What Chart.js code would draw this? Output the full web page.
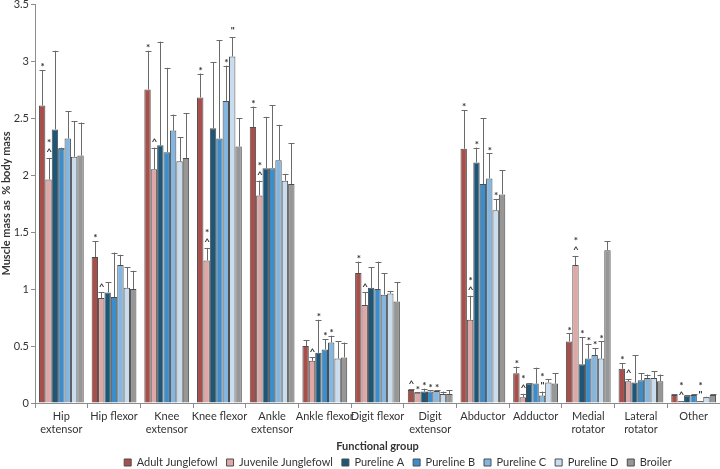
<!DOCTYPE html>
<html>
<head>
<meta charset="utf-8">
<script src="https://cdn.jsdelivr.net/npm/chart.js@4.4.1/dist/chart.umd.min.js"></script>
<style>
  html, body { margin: 0; padding: 0; background: #fff; }
  #wrap { width: 720px; height: 469px; }
</style>
</head>
<body>
<div id="wrap"><canvas id="muscleChart"></canvas></div>
<script>
// Functional groups (x categories)
const groups = [['Hip', 'extensor'], 'Hip flexor', ['Knee', 'extensor'], 'Knee flexor', ['Ankle', 'extensor'],
    'Ankle flexor', 'Digit flexor', ['Digit', 'extensor'], 'Abductor', 'Adductor', ['Medial', 'rotator'],
    ['Lateral', 'rotator'], 'Other'];

const seriesNames = ['Adult Junglefowl', 'Juvenile Junglefowl', 'Pureline A', 'Pureline B', 'Pureline C', 'Pureline D', 'Broiler'];

// Mean muscle mass (% body mass)
const adultJF    = [2.61, 1.28, 2.75, 2.68, 2.42, 0.50, 1.14, 0.115, 2.23, 0.26, 0.54, 0.30, 0.07];
const juvenileJF = [1.96, 0.92, 2.05, 1.25, 1.82, 0.37, 0.86, 0.09, 0.73, 0.05, 1.21, 0.19, 0.015];
const purelineA  = [2.40, 0.97, 2.26, 2.41, 2.06, 0.44, 1.01, 0.10, 2.11, 0.17, 0.34, 0.18, 0.065];
const purelineB  = [2.23, 0.93, 2.20, 2.32, 2.06, 0.47, 1.00, 0.10, 1.92, 0.17, 0.39, 0.20, 0.07];
const purelineC  = [2.32, 1.21, 2.39, 2.65, 2.13, 0.53, 0.95, 0.105, 1.97, 0.065, 0.42, 0.22, 0.015];
const purelineD  = [2.16, 1.01, 2.12, 3.04, 1.95, 0.39, 0.96, 0.08, 1.69, 0.18, 0.39, 0.22, 0.05];
const broiler    = [2.17, 1.00, 2.15, 2.25, 1.92, 0.40, 0.89, 0.08, 1.83, 0.17, 1.34, 0.19, 0.07];

// Standard deviation (upper error bar)
const adultJFSd    = [0.31, 0.14, 0.34, 0.21, 0.18, 0.05, 0.10, 0.005, 0.34, 0.06, 0.07, 0.05, 0.005];
const juvenileJFSd = [0.19, 0.05, 0.19, 0.11, 0.13, 0.03, 0.11, 0.003, 0.21, 0.03, 0.08, 0.02, 0.003];
const purelineASd  = [0.69, 0.09, 0.91, 0.58, 0.45, 0.29, 0.18, 0.026, 0.13, 0.005, 0.24, 0.24, 0.005];
const purelineBSd  = [0.01, 0.39, 0.74, 0.86, 0.55, 0.09, 0.24, 0.01, 0.58, 0.14, 0.13, 0.06, 0.005];
const purelineCSd  = [0.24, 0.09, 0.14, 0.31, 0.31, 0.06, 0.19, 0.005, 0.22, 0.035, 0.06, 0.03, 0.003];
const purelineDSd  = [0.31, 0.18, 0.21, 0.17, 0.06, 0.15, 0.02, 0.02, 0.10, 0.03, 0.15, 0.06, 0.005];
const broilerSd    = [0.29, 0.16, 0.39, 0.25, 0.36, 0.13, 0.17, 0.03, 0.21, 0.09, 0.08, 0.06, 0.005];

// Significance marks above each bar (top to bottom)
const adultJFMarks    = ['*', '*', '*', '*', '*', '', '*', '^', '*', '*', '*', '*', ''];
const juvenileJFMarks = ['*^', '^', '^', '*^', '*^', '^', '^', '*', '*^', '*^', '*^', '^', '*^'];
const purelineAMarks  = ['', '', '', '', '', '*', '', '*', '*', '', '*', '', ''];
const purelineBMarks  = ['', '', '', '', '', '*', '', '*', '', '', '*', '', ''];
const purelineCMarks  = ['', '', '', '*', '', '*', '', '*', '*', '*"', '*', '', '*"'];
const purelineDMarks  = ['', '', '', '"', '', '', '', '', '*', '', '*', '', ''];
const broilerMarks    = ['', '', '', '', '', '', '', '', '', '', '', '', ''];

const yTicks = [0, 0.5, 1, 1.5, 2, 2.5, 3, 3.5];

const seriesValues = [adultJF, juvenileJF, purelineA, purelineB, purelineC, purelineD, broiler];
const seriesSd = [adultJFSd, juvenileJFSd, purelineASd, purelineBSd, purelineCSd, purelineDSd, broilerSd];
const seriesMarks = [adultJFMarks, juvenileJFMarks, purelineAMarks, purelineBMarks, purelineCMarks, purelineDMarks, broilerMarks];
const colors = ['#a64f4b', '#dfa8a7', '#1d5677', '#3b8ecb', '#85b6df', '#c9ddef', '#979797'];

const FONT = 'Lato, "Open Sans", sans-serif';
const TEXT = '#333333';

// error bars + significance marks
const errorBarPlugin = {
    id: 'errorBars',
    afterDatasetsDraw(chart) {
        const ctx = chart.ctx;
        const y = chart.scales.y;
        ctx.save();
        chart.data.datasets.forEach((ds, i) => {
            const meta = chart.getDatasetMeta(i);
            meta.data.forEach((bar, j) => {
                const top = y.getPixelForValue(ds.data[j] + ds.sd[j]);
                const base = y.getPixelForValue(ds.data[j]);
                ctx.strokeStyle = '#6a6a6a';
                ctx.lineWidth = 1;
                ctx.beginPath();
                ctx.moveTo(Math.round(bar.x) + 0.5, base);
                ctx.lineTo(Math.round(bar.x) + 0.5, top);
                ctx.moveTo(Math.round(bar.x) - 2.5, Math.round(top) + 0.5);
                ctx.lineTo(Math.round(bar.x) + 3.5, Math.round(top) + 0.5);
                ctx.stroke();

                const marks = ds.marks[j];
                ctx.fillStyle = TEXT;
                ctx.textAlign = 'center';
                ctx.textBaseline = 'middle';
                ctx.font = 'bold 10px ' + FONT;
                let off = 6;
                for (let k = marks.length - 1; k >= 0; k--) {
                    const m = marks[k];
                    const dy = m === '*' ? 3 : 0;
                    ctx.fillText(m, bar.x + 0.5, top - off + dy);
                    off += 12;
                }
            });
        });
        ctx.restore();
    }
};

// move the legend a bit right and up, as in the original figure
const legendShift = {
    id: 'legendShift',
    afterLayout(chart) {
        const lg = chart.legend;
        lg.left += 38;
        lg.right += 38;
        lg.top -= 5;
    }
};

const ctx = document.getElementById('muscleChart').getContext('2d');
new Chart(ctx, {
    type: 'bar',
    data: {
        labels: groups,
        datasets: seriesNames.map((name, i) => ({
            label: name,
            data: seriesValues[i],
            sd: seriesSd[i],
            marks: seriesMarks[i],
            backgroundColor: colors[i],
            borderColor: '#4d4d4d',
            borderWidth: 1,
            borderSkipped: 'bottom',
            barPercentage: 1.0,
            categoryPercentage: 0.85
        }))
    },
    options: {
        responsive: true,
        maintainAspectRatio: false,
        animation: false,
        layout: { padding: { left: 0, right: 0, top: 4, bottom: 0 } },
        plugins: {
            tooltip: { enabled: false },
            legend: {
                position: 'bottom',
                maxHeight: 16,
                labels: {
                    font: { family: FONT, size: 11 },
                    color: TEXT,
                    boxWidth: 7,
                    boxHeight: 7,
                    padding: 9
                }
            }
        },
        scales: {
            x: {
                grid: { display: true, drawOnChartArea: false, offset: true, tickLength: 5, color: '#8c8c8c' },
                border: { color: '#8c8c8c' },
                ticks: { font: { family: FONT, size: 11, lineHeight: 1.2 }, color: TEXT, maxRotation: 0, autoSkip: false, padding: 2 },
                title: { display: true, text: 'Functional group', font: { family: FONT, size: 11, weight: 'bold' }, color: TEXT, padding: { top: 4, bottom: 0 } },
                afterFit(scale) { scale.height = 50; }
            },
            y: {
                min: 0,
                max: 3.5,
                afterBuildTicks(scale) { scale.ticks = yTicks.map(v => ({ value: v })); },
                grid: { display: true, drawOnChartArea: false, tickLength: 4, color: '#8c8c8c' },
                border: { color: '#8c8c8c' },
                ticks: { font: { family: FONT, size: 11 }, color: TEXT, padding: 2, callback: v => String(v) },
                title: { display: true, text: 'Muscle mass as  % body mass', font: { family: FONT, size: 11, weight: 'bold' }, color: TEXT, padding: { top: 0, bottom: 0 } },
                afterFit(scale) { scale.width = 35; scale.paddingTop = 0; }
            }
        }
    },
    plugins: [errorBarPlugin, legendShift]
});
</script>
</body>
</html>
